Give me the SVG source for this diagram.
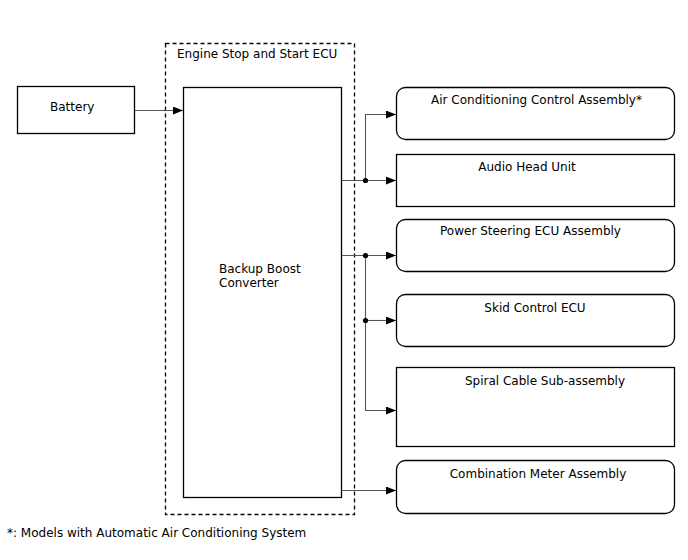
<svg xmlns="http://www.w3.org/2000/svg" width="688" height="560" viewBox="0 0 688 560">
<defs>
<style>
text{font-family:"DejaVu Sans","Liberation Sans",sans-serif;font-size:12px;fill:#000}
.box{fill:#fff;stroke:#000;stroke-width:1.3}
.dash{fill:none;stroke:#000;stroke-width:1.3;stroke-dasharray:4,3}
.wire{fill:none;stroke:#555;stroke-width:1.1}
.dot{fill:#000}
</style>
<marker id="arr" viewBox="0 0 10 8" refX="10" refY="4" markerWidth="10" markerHeight="8" markerUnits="userSpaceOnUse" orient="auto">
<path d="M0,0 L10,4 L0,8 Z" fill="#000"/>
</marker>
</defs>
<rect width="688" height="560" fill="#fff"/>
<g id="ecu">
<rect class="dash" x="165.5" y="43.5" width="189" height="471"/>
<text x="177" y="58">Engine Stop and Start ECU</text>
</g>
<g id="battery">
<rect class="box" x="17.5" y="86.5" width="117" height="47"/>
<text x="50" y="111">Battery</text>
</g>
<g id="converter">
<rect class="box" x="183.5" y="87.5" width="158" height="410"/>
<text x="219" y="273">Backup Boost</text>
<text x="219" y="287">Converter</text>
</g>
<g id="aircon">
<rect class="box" x="396.5" y="87.5" width="278" height="52" rx="9"/>
<text x="536.5" y="104" text-anchor="middle">Air Conditioning Control Assembly*</text>
</g>
<g id="audio">
<rect class="box" x="396.5" y="154.5" width="278" height="52"/>
<text x="527" y="171" text-anchor="middle">Audio Head Unit</text>
</g>
<g id="steering">
<rect class="box" x="396.5" y="219.5" width="278" height="52" rx="9"/>
<text x="530.5" y="235" text-anchor="middle">Power Steering ECU Assembly</text>
</g>
<g id="skid">
<rect class="box" x="396.5" y="294.5" width="278" height="52" rx="9"/>
<text x="535" y="312" text-anchor="middle">Skid Control ECU</text>
</g>
<g id="spiral">
<rect class="box" x="396.5" y="367.5" width="278" height="79"/>
<text x="545" y="385" text-anchor="middle">Spiral Cable Sub-assembly</text>
</g>
<g id="meter">
<rect class="box" x="396.5" y="460.5" width="278" height="53" rx="9"/>
<text x="538" y="478" text-anchor="middle">Combination Meter Assembly</text>
</g>
<g id="connectors">
<path class="wire" d="M135,110.5 H183" marker-end="url(#arr)"/>
<path class="wire" d="M342,180.5 H396" marker-end="url(#arr)"/>
<path class="wire" d="M365.5,180.5 V114.5 H396" marker-end="url(#arr)"/>
<path class="wire" d="M342,255.5 H396" marker-end="url(#arr)"/>
<path class="wire" d="M365.5,255.5 V410.5 H396" marker-end="url(#arr)"/>
<path class="wire" d="M365.5,320.5 H396" marker-end="url(#arr)"/>
<path class="wire" d="M342,490.5 H396" marker-end="url(#arr)"/>
<circle class="dot" cx="365.5" cy="180.5" r="2.6"/>
<circle class="dot" cx="365.5" cy="255.5" r="2.6"/>
<circle class="dot" cx="365.5" cy="320.5" r="2.6"/>
</g>
<g id="footnote">
<text x="7" y="537">*: Models with Automatic Air Conditioning System</text>
</g>
</svg>
